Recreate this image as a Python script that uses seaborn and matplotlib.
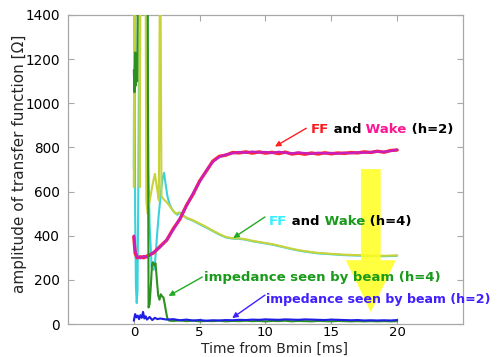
import matplotlib
matplotlib.use("Agg")
import matplotlib.pyplot as plt
import seaborn as sns
import pandas as pd
from matplotlib.transforms import offset_copy

# ---------------- data ----------------
x_ticks = [0, 5, 10, 15, 20]
y_ticks = [0, 200, 400, 600, 800, 1000, 1200, 1400]

# FF and Wake (h=2)
t_h2 = [0.0, 0.1, 0.25, 0.5, 0.75, 1.0, 1.5, 2.0, 2.5, 3.0, 3.5, 4.0, 4.5, 5.0,
        5.5, 6.0, 6.5, 7.0, 7.5, 8.0, 8.5, 9.0, 9.5, 10.0, 10.5, 11.0, 11.5,
        12.0, 12.5, 13.0, 13.5, 14.0, 14.5, 15.0, 15.5, 16.0, 16.5, 17.0, 17.5,
        18.0, 18.5, 19.0, 19.5, 20.0]
wake_h2 = [400, 330, 305, 298, 308, 302, 325, 348, 382, 428, 478, 535, 592, 645,
           695, 735, 757, 768, 774, 779, 776, 781, 777, 779, 775, 780, 776,
           773, 777, 774, 771, 776, 773, 775, 772, 776, 774, 778, 776,
           779, 781, 780, 784, 790]
ff_h2 = [395, 320, 300, 305, 300, 308, 322, 352, 380, 432, 475, 538, 588, 648,
         692, 738, 760, 765, 777, 775, 780, 774, 780, 774, 778, 772, 779,
         770, 774, 769, 775, 770, 776, 771, 775, 773, 777, 775, 780,
         777, 783, 778, 786, 788]

# Wake (h=4)
t_h4w = [0.0, 0.04, 0.4, 0.45, 0.5, 0.9, 0.95, 1.05, 1.15,
         1.3, 1.45, 1.6, 1.75, 1.9, 1.97, 2.03, 2.1, 2.2, 2.35, 2.5, 2.65, 2.8,
         3.0, 3.2, 3.4, 3.6, 3.8, 4.0, 4.5, 5.0, 5.5, 6.0, 6.5, 7.0, 7.5, 8.0,
         8.5, 9.0, 9.5, 10.0, 10.5, 11.0, 11.5, 12.0, 12.5, 13.0, 13.5, 14.0,
         14.5, 15.0, 15.5, 16.0, 16.5, 17.0, 17.5, 18.0, 18.5, 19.0, 19.5, 20.0]
wake_h4 = [620, 1500, 1500, 620, 1500, 1500, 560, 500, 540,
           590, 640, 680, 620, 560, 1500, 1500, 580, 570, 560, 552, 540, 528,
           512, 500, 505, 498, 488, 482, 470, 455, 440, 423, 408, 394, 389, 388,
           384, 377, 372, 367, 362, 355, 348, 341, 335, 330, 326, 322,
           320, 318, 316, 314, 313, 312, 311, 310, 310, 309, 310, 311]

# FF (h=4)
t_h4f = [0.0, 0.04, 0.1, 0.16, 0.22, 0.28, 0.34, 0.42, 0.5, 1.05, 1.1, 1.2,
         1.35, 1.5, 1.6, 1.7, 1.8, 1.9, 2.0, 2.1, 2.2, 2.3, 2.4, 2.55, 2.7,
         2.9, 3.1, 3.3, 3.5, 3.7, 4.0, 4.5, 5.0, 5.5, 6.0, 6.5, 7.0, 7.5, 8.0,
         8.5, 9.0, 9.5, 10.0, 10.5, 11.0, 11.5, 12.0, 12.5, 13.0, 13.5, 14.0,
         14.5, 15.0, 15.5, 16.0, 16.5, 17.0, 17.5, 18.0, 18.5, 19.0, 19.5, 20.0]
ff_h4 = [700, 1500, 500, 170, 95, 150, 600, 1500, 1500, 1500, 700, 450,
         260, 245, 270, 350, 430, 500, 560, 620, 665, 685, 640, 580, 545,
         520, 505, 495, 505, 495, 480, 468, 452, 437, 421, 405, 392, 387, 386,
         382, 375, 370, 365, 360, 353, 346, 339, 333, 328, 324, 320,
         318, 316, 314, 312, 311, 310, 309, 308, 308, 307, 308, 309]

# impedance seen by beam (h=4)
t_imp4 = [0.0, 0.05, 0.1, 0.15, 0.2, 0.25, 0.3, 1.05, 1.12, 1.2, 1.3, 1.38,
          1.45, 1.55, 1.65, 1.75, 1.85, 1.95, 2.05, 2.15, 2.25, 2.35, 2.45,
          2.55, 2.7, 3.0, 3.5, 4.0, 4.5, 5.0, 5.5, 6.0, 6.5, 7.0, 7.5, 8.0,
          8.5, 9.0, 9.5, 10.0, 10.5, 11.0, 11.5, 12.0, 12.5, 13.0, 13.5, 14.0,
          14.5, 15.0, 15.5, 16.0, 16.5, 17.0, 17.5, 18.0, 18.5, 19.0, 19.5, 20.0]
imp_h4 = [1150, 1050, 1230, 1080, 1180, 1100, 1500, 1500, 75, 90, 180, 270,
          280, 265, 275, 200, 130, 110, 135, 125, 120, 90, 55,
          25, 15, 14, 16, 13, 15, 12, 14, 13, 15, 12, 14, 13,
          15, 13, 14, 12, 14, 13, 15, 12, 14, 13, 12, 14,
          13, 12, 14, 13, 12, 13, 12, 13, 12, 13, 12, 13]

# impedance seen by beam (h=2)
t_imp2 = [0.0, 0.1, 0.2, 0.3, 0.4, 0.5, 0.6, 0.7, 0.8, 0.9, 1.0, 1.2, 1.4,
          1.6, 1.8, 2.0, 2.5, 3.0, 3.5, 4.0, 4.5, 5.0, 5.5, 6.0, 6.5, 7.0,
          7.5, 8.0, 8.5, 9.0, 9.5, 10.0, 10.5, 11.0, 11.5, 12.0, 12.5, 13.0,
          13.5, 14.0, 14.5, 15.0, 15.5, 16.0, 16.5, 17.0, 17.5, 18.0, 18.5,
          19.0, 19.5, 20.0]
imp_h2 = [15, 45, 30, 38, 22, 40, 28, 55, 25, 35, 20, 32, 18,
          28, 22, 25, 20, 22, 17, 20, 16, 18, 15, 17, 16, 18,
          17, 19, 18, 20, 19, 21, 20, 19, 21, 20, 19, 21,
          20, 19, 18, 20, 19, 18, 17, 18, 16, 17, 16,
          17, 16, 18]

# ---------------- figure ----------------
sns.set_theme(style="white")
plt.rcParams['font.family'] = ['DejaVu Sans']

fig = plt.figure(figsize=(5.01, 3.57), dpi=100)
ax = fig.add_axes([0.1357, 0.0924, 0.7884, 0.8656])

gray = '#a8a8a8'

def draw(t, v, color, lw, z):
    df = pd.DataFrame({'t': t, 'v': v})
    sns.lineplot(data=df, x='t', y='v', ax=ax, color=color, lw=lw,
                 estimator=None, sort=False, zorder=z)

draw(t_h4f, ff_h4, '#3cd2dc', 1.5, 2)
draw(t_h4w, wake_h4, '#c8d23a', 1.5, 3)
draw(t_h2, ff_h2, '#ff2a2a', 2.4, 4)
draw(t_h2, wake_h2, '#c81ec0', 1.7, 5)
draw(t_imp4, imp_h4, '#2e9020', 1.5, 6)
draw(t_imp2, imp_h2, '#1e1ee6', 1.5, 7)

ax.set_xlim(-5, 25)
ax.set_ylim(0, 1400)
ax.set_xticks(x_ticks)
ax.set_yticks(y_ticks)
ax.set_xticklabels([str(v) for v in x_ticks], fontsize=9.5)
ax.set_yticklabels([str(v) for v in y_ticks], fontsize=9.8)
ax.set_xlabel('Time from Bmin [ms]', fontsize=10)
ax.set_ylabel('amplitude of transfer function [Ω]', fontsize=11)
ax.xaxis.set_label_coords(0.523, -0.057)
ax.yaxis.set_label_coords(-0.104, 0.52)

for s in ax.spines.values():
    s.set_visible(True)
    s.set_color(gray)
    s.set_linewidth(0.9)
ax.tick_params(direction='in', length=4, width=0.8, color=gray,
               top=True, right=True, bottom=True, left=True,
               labelcolor='black')
ax.tick_params(axis='x', pad=1.5)
ax.tick_params(axis='y', pad=6)

# big yellow arrow
ax.arrow(18.0, 702, 0, -648, width=1.5, head_width=3.8, head_length=235,
         length_includes_head=True, color='#ffff1e', alpha=0.85, lw=0,
         zorder=8)

# small arrows
def small_arrow(start, tip, color):
    ax.annotate('', xy=tip, xytext=start,
                arrowprops=dict(arrowstyle='-|>', color=color, lw=1.0,
                                mutation_scale=8, shrinkA=0, shrinkB=0),
                zorder=9)

small_arrow((13.1, 887), (10.72, 804), '#ff2020')
small_arrow((9.96, 485), (7.55, 390), '#22aa22')
small_arrow((5.2, 213), (2.64, 127), '#22aa22')
small_arrow((9.96, 131), (7.47, 27), '#4020ff')

# multicoloured labels
renderer = fig.canvas.get_renderer()

def multi(x, y, parts, size=9.5):
    trans = ax.transData
    for s, c in parts:
        t = ax.text(x, y, s, color=c, transform=trans, fontsize=size,
                    fontweight='bold', va='baseline', ha='left', zorder=10,
                    clip_on=False)
        ex = t.get_window_extent(renderer)
        trans = offset_copy(trans, fig=fig, x=ex.width, y=0, units='dots')

multi(13.43, 865, [('FF', '#ff1a1a'), (' and', 'black'), (' Wake', '#ff1493'),
                   (' (h=2)', 'black')])
multi(10.26, 449, [('FF', '#33f0ff'), (' and', 'black'), (' Wake', '#1a9a1a'),
                   (' (h=4)', 'black')])
multi(5.3, 196, [('impedance seen by beam (h=4)', '#1a9a1a')])
multi(10.05, 95, [('impedance seen by beam (h=2)', '#4020ff')], size=9.1)

fig.savefig('out.png', dpi=100)
